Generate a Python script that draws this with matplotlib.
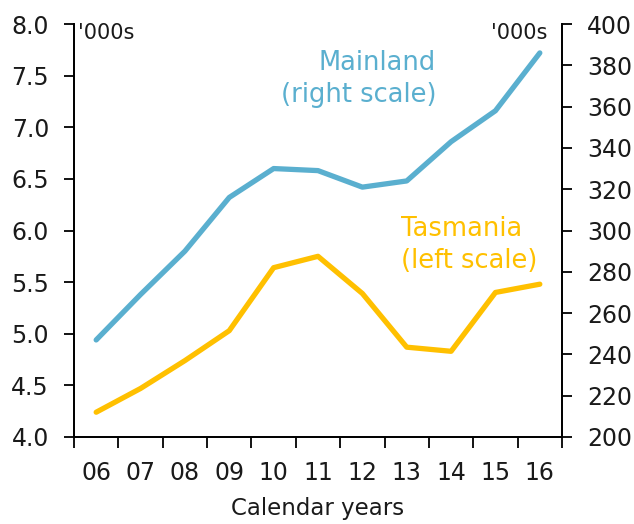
import matplotlib
matplotlib.use('Agg')
import matplotlib.pyplot as plt

plt.rcParams['font.family'] = ['DejaVu Sans']

# 数据
years = ['06', '07', '08', '09', '10', '11', '12', '13', '14', '15', '16']
tasmania = [4.24, 4.47, 4.74, 5.03, 5.64, 5.75, 5.39, 4.87, 4.83, 5.40, 5.48]
mainland = [247, 269, 290, 316, 330, 329, 321, 324, 343, 358, 386]
left_ticks = [4.0, 4.5, 5.0, 5.5, 6.0, 6.5, 7.0, 7.5, 8.0]
right_ticks = [200, 220, 240, 260, 280, 300, 320, 340, 360, 380, 400]

blue = '#5AAFCF'
yellow = '#FFC000'
dark = '#1a1a1a'

fig = plt.figure(figsize=(6.34, 5.24), dpi=100)
ax = fig.add_axes([74 / 634, 1 - 437 / 524, (562 - 74) / 634, (437 - 24) / 524])
ax2 = ax.twinx()

x = list(range(len(years)))
ax.plot(x, tasmania, color=yellow, lw=3.8, solid_capstyle='round', zorder=3)
ax2.plot(x, mainland, color=blue, lw=3.8, solid_capstyle='round', zorder=3)

ax.set_xlim(-0.5, len(years) - 0.5)
ax.set_ylim(4.0, 8.0)
ax2.set_ylim(200, 400)

ax.set_yticks(left_ticks)
ax.set_yticklabels([f'{v:.1f}' for v in left_ticks])
ax2.set_yticks(right_ticks)
ax2.set_yticklabels([str(v) for v in right_ticks])

# x 轴：刻度在类别边界，标签在中间
ax.set_xticks([i - 0.5 for i in range(len(years) + 1)])
ax.set_xticklabels([])
ax.set_xticks(x, minor=True)
ax.set_xticklabels(years, minor=True)
ax.tick_params(axis='x', which='minor', length=0, pad=17, labelsize=17, labelcolor=dark)
ax.tick_params(axis='x', which='major', direction='out', length=8, width=1.3)

ax.tick_params(axis='y', direction='out', length=7, width=1.3, pad=11,
               labelsize=17, labelcolor=dark)
ax2.tick_params(axis='y', direction='out', length=7, width=1.3, pad=11,
                labelsize=17, labelcolor=dark)

for a in (ax, ax2):
    a.spines['top'].set_visible(False)
    for s in ('left', 'right', 'bottom'):
        a.spines[s].set_linewidth(1.3)

ax.set_xlabel('Calendar years', fontsize=16.5, color=dark, labelpad=9)

# 单位标签
ax.text(78 / 634, 1 - 33 / 524, "'000s", transform=fig.transFigure,
        ha='left', va='center', fontsize=15, color=dark)
ax.text(547 / 634, 1 - 33 / 524, "'000s", transform=fig.transFigure,
        ha='right', va='center', fontsize=15, color=dark)

# 系列标签
ax.text(436 / 634, 1 - 79 / 524, 'Mainland\n(right scale)', transform=fig.transFigure,
        ha='right', va='center', fontsize=18.5, color=blue, linespacing=1.25)
ax.text(401 / 634, 1 - 245 / 524, 'Tasmania\n(left scale)', transform=fig.transFigure,
        ha='left', va='center', fontsize=18.5, color=yellow, linespacing=1.25)

plt.savefig('out.png', dpi=100, facecolor='white')
plt.close()
